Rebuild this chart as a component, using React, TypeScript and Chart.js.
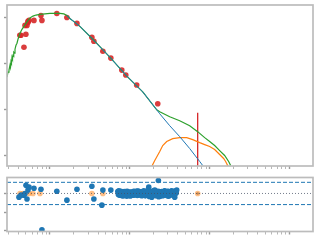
import { useEffect, useRef } from "react";
import { Chart, registerables } from "chart.js";

Chart.register(...registerables);

// ---------- axis limits & ticks ----------
const X_MIN = 0.29;
const X_MAX = 1968;
const Y_TOP_MIN = 0.633;
const Y_TOP_MAX = 1901;
const Y_RES_MIN = -2.05;
const Y_RES_MAX = 0.86;

const X_TICKS = [
  0.3, 0.4, 0.5, 0.6, 0.7, 0.8, 0.9, 1, 2, 3, 4, 5, 6, 7, 8, 9, 10, 20, 30, 40, 50, 60, 70, 80, 90, 100,
  200, 300, 400, 500, 600, 700, 800, 900, 1000,
];
const Y_TICKS_TOP = [1, 10, 100, 1000];
const Y_TICKS_RES = [-2, -1, 0];

// ---------- top panel: model SED ----------
const MODEL_WAVE = [
  0.29, 0.2985, 0.3072, 0.3162, 0.3208, 0.3255, 0.33, 0.335, 0.34, 0.3448, 0.3498, 0.3548, 0.36, 0.3652,
  0.3758, 0.3868, 0.3981, 0.4097, 0.4217, 0.4467, 0.4732, 0.5012, 0.5309, 0.5623, 0.613, 0.6683, 0.7499,
  0.866, 1.0, 1.155, 1.334, 1.496, 1.631, 1.778, 2.054, 2.371, 3.447, 5.623, 9.173, 14.54, 21.75, 23.71,
  31.62, 42.17, 56.23, 70.79, 86.6, 100, 115.5, 133.4, 154, 172.9, 183.1,
];
const MODEL_FLUX = [
  51.6, 66.2, 73.1, 93.7, 84, 112, 104, 139.6, 128, 152, 146, 178.9, 170, 207.8, 253.4, 280, 341.6, 396.6,
  460.3, 561.6, 652.1, 756.8, 878.6, 994.9, 1090, 1150, 1190, 1220, 1245, 1245, 1245, 1214, 1127, 970.5,
  795.6, 652.1, 341.6, 139.6, 54.2, 24.5, 10, 9.05, 7.06, 5.79, 4.51, 3.35, 2.48, 2.04, 1.67, 1.3, 1.015,
  0.753, 0.617,
];

const STAR_WAVE = [1.631, 1.778, 2.054, 2.371, 3.447, 5.623, 9.173, 14.54, 21.75, 23.71, 31.62, 42.17, 56.23, 74.99, 81.75];
const STAR_FLUX = [1127, 970.5, 795.6, 652.1, 341.6, 139.6, 54.2, 24.5, 10, 8.2, 4.51, 2.61, 1.438, 0.753, 0.617];

const DUST_WAVE = [18.84, 20.54, 23.71, 25.85, 29.0, 34.47, 42.17, 51.58, 61.31, 74.99, 86.6, 100, 115.5, 133.4, 149.6, 158.5, 167.9, 172.9];
const DUST_FLUX = [0.587, 0.792, 1.238, 1.67, 2.04, 2.364, 2.48, 2.48, 2.25, 1.938, 1.754, 1.588, 1.368, 1.067, 0.874, 0.753, 0.617, 0.532];

const PHOT_WAVE = [
  0.42, 0.434, 0.473, 0.5, 0.487, 0.516, 0.531, 0.547, 0.531, 0.631, 0.772, 0.794, 1.22, 1.63, 2.18, 3.35,
  3.55, 4.6, 5.79, 7.94, 8.91, 12.2, 22.4,
];
const PHOT_FLUX = [
  417, 417, 230, 438, 685, 685, 796, 879, 836, 879, 1127, 879, 1245, 1020, 757, 378, 309, 188, 133, 73, 57,
  34.7, 13.5,
];

const LIMIT_WAVE = [70.79, 70.79];
const LIMIT_FLUX = [8.61, 0.5];

// ---------- bottom panel: residuals ----------
const RESID_WAVE = [
  0.4097, 0.434, 0.4732, 0.487, 0.5012, 0.547, 0.5309, 0.516, 0.631, 0.772, 0.794, 1.22, 1.631, 2.18, 3.35,
  3.55, 4.47, 4.6, 5.79, 7.5, 17.28, 22.8,
];
const RESID_VALUE = [
  -0.2, -0.09, -0.09, 0, 0.44, 0.34, 0.18, -0.3, 0.28, 0.23, -1.96, 0.12, -0.36, 0.23, 0.39, -0.3, -0.63,
  0.18, 0.18, 0, 0.34, 0.7,
];

const SPEC_WAVE = [
  7.08, 7.19, 7.29, 7.5, 7.61, 7.72, 7.94, 8.18, 8.3, 8.41, 8.66, 8.91, 9.17, 9.44, 9.72, 10.0, 10.29, 10.59,
  10.91, 11.22, 11.55, 11.89, 12.23, 12.59, 12.96, 13.34, 13.73, 14.13, 14.54, 14.96, 15.4, 15.85, 16.31,
  16.79, 17.78, 18.3, 18.84, 19.39, 19.95, 20.54, 21.13, 21.75, 22.39, 23.04, 23.71, 24.41, 25.12, 25.85,
  26.61, 27.38, 28.18, 29.0, 29.85, 30.72, 31.62, 32.54, 33.5, 34.47, 35.48, 36.52, 37.58, 38.68,
];
const SPEC_VALUE = [
  0.1, -0.05, 0.15, 0.05, -0.1, 0.12, -0.02, 0.08, -0.12, 0.03, -0.08, 0.1, -0.15, 0.02, -0.06, 0.07, -0.1,
  0.05, -0.04, 0.11, -0.07, 0.02, 0.13, -0.09, 0.06, -0.02, 0.09, -0.12, 0.04, 0.14, -0.05, 0.08, -0.1, 0.15,
  -0.14, 0.06, -0.2, 0.1, -0.05, 0.18, -0.1, 0.05, 0.12, -0.18, 0.08, -0.03, 0.1, -0.12, 0.04, 0.14, -0.08,
  0.02, 0.12, -0.15, 0.06, -0.05, 0.15, 0.0, 0.1, -0.2, 0.05, 0.18,
];
const SPEC_WAVE_B = [
  7.4, 7.83, 8.05, 8.54, 8.78, 9.04, 9.3, 9.58, 9.86, 10.14, 10.44, 10.75, 11.06, 11.38, 11.72, 12.06, 12.41,
  12.77, 13.15, 13.53, 13.93, 14.33, 14.75, 15.18, 15.62, 16.08, 16.55, 17.03, 17.53, 18.04, 18.57, 19.11,
  19.67, 20.24, 20.83, 21.44, 22.07, 22.71, 23.37, 24.06, 24.76, 25.48, 26.23, 26.99, 27.78, 28.58, 29.42,
  30.28, 31.16, 32.07, 33.01, 33.97, 34.97, 35.99, 37.04, 38.12,
];
const SPEC_VALUE_B = [
  -0.08, 0.06, -0.12, 0.1, 0.0, -0.05, 0.12, -0.1, 0.04, -0.14, 0.08, 0.02, -0.09, 0.1, -0.03, 0.06, -0.11,
  0.13, -0.06, 0.03, -0.1, 0.09, -0.04, 0.07, -0.13, 0.11, -0.02, 0.05, -0.16, 0.1, 0.0, -0.1, 0.14, -0.07,
  0.04, -0.12, 0.09, -0.05, 0.1, -0.15, 0.06, 0.0, -0.09, 0.12, -0.04, 0.07, -0.13, 0.1, 0.02, -0.08, 0.12,
  -0.06, 0.08, -0.1, 0.13, 0.02,
];

const EXCL_WAVE = [0.4217, 0.46, 0.547, 0.613, 0.75, 3.35, 4.6, 70.79];
const EXCL_VALUE = [0, 0, 0, 0, 0, 0, 0, 0];

const BAND_LEVEL = [0.6, -0.6];

// ---------- helpers ----------
const zip = (xs: number[], ys: number[]) => xs.map((x, i) => ({ x, y: ys[i] }));

const framePlugin = {
  id: "frame",
  afterDraw(chart: any) {
    const { ctx, chartArea } = chart;
    ctx.save();
    ctx.strokeStyle = "#bcbcbc";
    ctx.lineWidth = 1.7;
    ctx.strokeRect(chartArea.left, chartArea.top, chartArea.right - chartArea.left, chartArea.bottom - chartArea.top);
    ctx.restore();
  },
};

const tickGrid = {
  display: true,
  drawOnChartArea: false,
  drawTicks: true,
  tickLength: 3,
  tickColor: (c: any) => (c.tick && c.tick.major ? "#9a9a9a" : "#b8b8b8"),
  tickWidth: (c: any) => (c.tick && c.tick.major ? 1.4 : 1),
};

const isDecade = (v: number) => Math.abs(Math.log10(v) - Math.round(Math.log10(v))) < 1e-9;

function xAxis() {
  return {
    type: "logarithmic" as const,
    min: X_MIN,
    max: X_MAX,
    ticks: { display: false },
    grid: tickGrid,
    border: { display: false },
    afterBuildTicks: (axis: any) => {
      axis.ticks = X_TICKS.map((v) => ({ value: v, major: isDecade(v) }));
    },
  };
}

export default function App() {
  const topRef = useRef<HTMLCanvasElement>(null);
  const botRef = useRef<HTMLCanvasElement>(null);

  useEffect(() => {
    const top = new Chart(topRef.current!, {
      type: "scatter",
      data: {
        datasets: [
          {
            data: zip(STAR_WAVE, STAR_FLUX),
            showLine: true,
            borderColor: "#1f77b4",
            borderWidth: 1,
            pointRadius: 0,
          },
          {
            data: zip(DUST_WAVE, DUST_FLUX),
            showLine: true,
            borderColor: "#ff7f0e",
            borderWidth: 1.2,
            pointRadius: 0,
          },
          {
            data: zip(MODEL_WAVE, MODEL_FLUX),
            showLine: true,
            borderColor: "#2ca02c",
            borderWidth: 1.2,
            pointRadius: 0,
          },
          {
            data: zip(LIMIT_WAVE, LIMIT_FLUX),
            showLine: true,
            borderColor: "#d62728",
            borderWidth: 1.3,
            pointRadius: 0,
          },
          {
            data: zip(PHOT_WAVE, PHOT_FLUX),
            showLine: false,
            backgroundColor: "rgba(214,39,40,0.9)",
            borderWidth: 0,
            pointRadius: 2.8,
          },
        ],
      },
      options: {
        responsive: false,
        animation: false,
        devicePixelRatio: 1,
        layout: { padding: { left: 4, right: 7, top: 5, bottom: 1 } },
        plugins: { legend: { display: false }, tooltip: { enabled: false } },
        scales: {
          x: xAxis(),
          y: {
            type: "logarithmic",
            min: Y_TOP_MIN,
            max: Y_TOP_MAX,
            ticks: { display: false },
            grid: tickGrid,
            border: { display: false },
            afterBuildTicks: (axis: any) => {
              axis.ticks = Y_TICKS_TOP.map((v) => ({ value: v, major: true }));
            },
          },
        },
      },
      plugins: [framePlugin],
    });

    const bot = new Chart(botRef.current!, {
      type: "scatter",
      data: {
        datasets: [
          {
            data: [
              { x: X_MIN, y: BAND_LEVEL[0] },
              { x: X_MAX, y: BAND_LEVEL[0] },
            ],
            showLine: true,
            borderColor: "#1f77b4",
            borderWidth: 1,
            borderDash: [4, 2],
            pointRadius: 0,
          },
          {
            data: [
              { x: X_MIN, y: BAND_LEVEL[1] },
              { x: X_MAX, y: BAND_LEVEL[1] },
            ],
            showLine: true,
            borderColor: "#1f77b4",
            borderWidth: 1,
            borderDash: [4, 2],
            pointRadius: 0,
          },
          {
            data: [
              { x: X_MIN, y: 0 },
              { x: X_MAX, y: 0 },
            ],
            showLine: true,
            borderColor: "rgba(70,80,100,0.75)",
            borderWidth: 1,
            borderDash: [1, 2],
            pointRadius: 0,
          },
          {
            data: zip(RESID_WAVE, RESID_VALUE),
            backgroundColor: "#1f77b4",
            borderWidth: 0,
            pointRadius: 2.8,
          },
          {
            data: zip(SPEC_WAVE, SPEC_VALUE),
            backgroundColor: "#1f77b4",
            borderWidth: 0,
            pointRadius: 2.8,
          },
          {
            data: zip(SPEC_WAVE_B, SPEC_VALUE_B),
            backgroundColor: "#1f77b4",
            borderWidth: 0,
            pointRadius: 2.8,
          },
          {
            data: zip(EXCL_WAVE, EXCL_VALUE),
            backgroundColor: "rgba(255,127,14,0.5)",
            borderWidth: 0,
            pointRadius: 2.8,
          },
          {
            data: zip([EXCL_WAVE[7]], [EXCL_VALUE[7]]),
            backgroundColor: "rgba(90,90,90,0.7)",
            borderWidth: 0,
            pointRadius: 1.3,
          },
        ],
      },
      options: {
        responsive: false,
        animation: false,
        devicePixelRatio: 1,
        layout: { padding: { left: 4, right: 7, top: 7.5, bottom: 5.5 } },
        plugins: { legend: { display: false }, tooltip: { enabled: false } },
        scales: {
          x: xAxis(),
          y: {
            type: "linear",
            min: Y_RES_MIN,
            max: Y_RES_MAX,
            ticks: { display: false },
            grid: tickGrid,
            border: { display: false },
            afterBuildTicks: (axis: any) => {
              axis.ticks = Y_TICKS_RES.map((v) => ({ value: v, major: true }));
            },
          },
        },
      },
      plugins: [framePlugin],
    });

    return () => {
      top.destroy();
      bot.destroy();
    };
  }, []);

  return (
    <div style={{ position: "fixed", left: 0, top: 0, width: 320, height: 240, background: "#fff" }}>
      <canvas ref={topRef} width={320} height={170} style={{ position: "absolute", left: 0, top: 0 }} />
      <canvas ref={botRef} width={320} height={70} style={{ position: "absolute", left: 0, top: 170 }} />
    </div>
  );
}
